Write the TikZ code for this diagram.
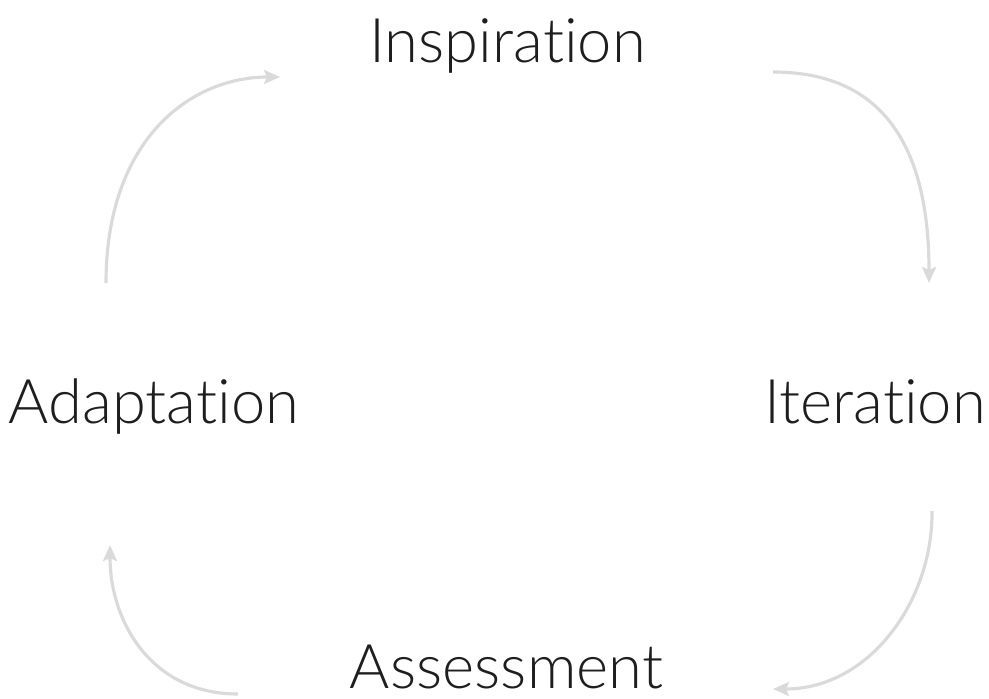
\documentclass[tikz,border=0pt]{standalone}
\usepackage{fontspec}
\setmainfont{Lato Light}[Ligatures=NoCommon]
\usetikzlibrary{arrows.meta}
\definecolor{arrowgray}{HTML}{DADADA}
\definecolor{textblack}{HTML}{1E1E1E}
\begin{document}
\begin{tikzpicture}[
    stage/.style={anchor=base,text=textblack,inner sep=0pt,font=\fontsize{35}{42}\selectfont},
    cycle/.style={arrowgray,line width=1.8pt,-{Stealth[length=3.2mm,width=2.8mm,inset=0.6mm]}}
    ]
        \useasboundingbox (0,0) rectangle (19.78,-13.98);

        % stages
        \node[stage] (insp) at (10.15,-1.26) {Inspiration};
        \node[stage] (iter) at (17.5,-8.46) {Iteration};
        \node[stage] (asse) at (10.13,-13.76) {Assessment};
        \node[stage] (adap) at (3.08,-8.46) {Adaptation};

        % arrow ends
        \coordinate (insp-out) at (15.46,-1.44);
        \coordinate (iter-in) at (18.58,-5.66);
        \coordinate (iter-out) at (18.64,-10.22);
        \coordinate (asse-in) at (15.46,-13.78);
        \coordinate (asse-out) at (4.76,-13.88);
        \coordinate (adap-in) at (2.2,-10.9);
        \coordinate (adap-out) at (2.12,-5.66);
        \coordinate (insp-in) at (5.6,-1.54);

        % cycle
        \draw[cycle] (insp-out) .. controls (17.4,-1.44) and (18.58,-2.6) .. (iter-in);
        \draw[cycle] (iter-out) .. controls (18.66,-12.0) and (17.4,-13.78) .. (asse-in);
        \draw[cycle] (asse-out) .. controls (3.0,-13.88) and (2.2,-12.4) .. (adap-in);
        \draw[cycle] (adap-out) .. controls (2.12,-2.8) and (3.8,-1.54) .. (insp-in);
\end{tikzpicture}
\end{document}
